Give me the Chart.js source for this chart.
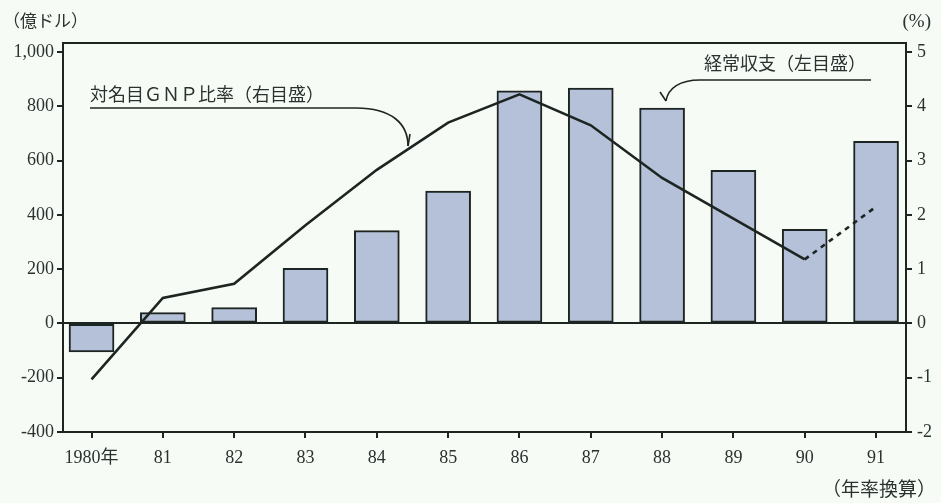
<!DOCTYPE html>
<html>
<head>
<meta charset="utf-8">
<script src="https://cdn.jsdelivr.net/npm/chart.js@4"></script>
<style>
  html, body { margin: 0; padding: 0; background: #f7fbf5; }
  canvas { display: block; }
</style>
</head>
<body>
<canvas id="chart" width="941" height="503"></canvas>
<script>
// data
const years = ['1980年', '81', '82', '83', '84', '85', '86', '87', '88', '89', '90', '91']
const currentAccount = [-105, 40, 58, 203, 342, 488, 857, 867, 793, 564, 347, 671] // 億ドル (left)
const gnpRatio = [-1.03, 0.47, 0.73, 1.81, 2.83, 3.7, 4.22, 3.65, 2.68, 1.93, 1.18, 2.15] // % (right)
const leftTicks = [-400, -200, 0, 200, 400, 600, 800, 1000]
const rightTicks = [-2, -1, 0, 1, 2, 3, 4, 5]

const ink = '#1d2523'
const numFont = { family: '"Liberation Serif", "Noto Sans CJK JP", serif', size: 18 }
const jpFont = '"Noto Sans CJK JP", sans-serif'

const ctx = document.getElementById('chart').getContext('2d')

const paperPlugin = {
  id: 'paper',
  beforeDraw(chart) {
    const c = chart.ctx
    c.save()
    c.fillStyle = '#f7fbf5'
    c.fillRect(0, 0, chart.width, chart.height)
    c.restore()
  },
  afterDraw(chart) {
    const c = chart.ctx
    const a = chart.chartArea
    c.save()
    // frame
    c.strokeStyle = ink
    c.lineWidth = 2
    c.strokeRect(a.left, a.top, a.right - a.left, a.bottom - a.top)

    // unit labels
    c.fillStyle = '#2a3230'
    c.textBaseline = 'middle'
    c.font = '17px ' + jpFont
    c.textAlign = 'left'
    c.fillText('（億ドル）', 3, 21)
    c.font = '19px "Liberation Serif", serif'
    c.textAlign = 'right'
    c.fillText('(%)', 931, 22)
    c.font = '19px ' + jpFont
    c.fillText('（年率換算）', 936, 489)

    // annotation: ratio line
    c.font = '18px ' + jpFont
    c.textAlign = 'left'
    c.fillText('対名目ＧＮＰ比率（右目盛）', 90, 94)
    c.lineWidth = 1.6
    c.beginPath()
    c.moveTo(90, 108)
    c.lineTo(356, 108)
    c.bezierCurveTo(392, 108, 408, 124, 408, 146)
    c.stroke()
    c.beginPath()
    c.moveTo(408, 146)
    c.lineTo(410, 134)
    c.stroke()

    // annotation: current account bars
    c.fillText('経常収支（左目盛）', 704, 63)
    c.beginPath()
    c.moveTo(871, 80)
    c.lineTo(700, 80)
    c.bezierCurveTo(680, 80, 668, 88, 666, 101)
    c.stroke()
    c.beginPath()
    c.moveTo(660, 92)
    c.lineTo(666, 101)
    c.stroke()
    c.restore()
  }
}

new Chart(ctx, {
  type: 'bar',
  data: {
    datasets: [{
      type: 'line',
      label: '対名目GNP比率',
      data: gnpRatio.map((v, i) => ({ x: i, y: v })),
      yAxisID: 'y1',
      borderColor: ink,
      borderWidth: 2.6,
      pointRadius: 0,
      tension: 0,
      order: 0,
      segment: {
        borderDash: c => c.p0DataIndex >= 10 ? [5, 5] : undefined
      }
    }, {
      label: '経常収支',
      data: currentAccount.map((v, i) => ({ x: i, y: v })),
      yAxisID: 'y',
      backgroundColor: '#b5c1d9',
      borderColor: ink,
      borderWidth: 2,
      borderSkipped: false,
      barThickness: 45,
      order: 1
    }]
  },
  options: {
    responsive: false,
    animation: false,
    layout: { padding: { top: 43, left: 0, right: 0, bottom: 0 } },
    plugins: { legend: { display: false }, tooltip: { enabled: false } },
    scales: {
      x: {
        type: 'linear',
        offset: false,
        min: -0.4,
        max: 11.42,
        afterBuildTicks: scale => { scale.ticks = years.map((_, i) => ({ value: i })) },
        afterFit: scale => { scale.height = 71 },
        grid: { offset: false, drawOnChartArea: false, tickLength: 6, color: ink, lineWidth: 2 },
        border: { color: ink, width: 2 },
        ticks: {
          autoSkip: false,
          maxRotation: 0,
          padding: 9,
          color: '#2a3230',
          font: numFont,
          callback: v => years[v]
        }
      },
      y: {
        position: 'left',
        min: -400,
        max: 1033.2,
        afterBuildTicks: scale => { scale.ticks = leftTicks.map(v => ({ value: v })) },
        afterFit: scale => { scale.width = 63 },
        grid: {
          color: c => c.tick && c.tick.value === 0 ? ink : 'rgba(0,0,0,0)',
          tickColor: ink,
          tickLength: 6,
          lineWidth: 2
        },
        border: { color: ink, width: 2 },
        ticks: {
          padding: 3,
          color: '#2a3230',
          font: numFont,
          callback: v => v.toLocaleString('en-US')
        }
      },
      y1: {
        position: 'right',
        min: -2,
        max: 5.166,
        afterBuildTicks: scale => { scale.ticks = rightTicks.map(v => ({ value: v })) },
        afterFit: scale => { scale.width = 35 },
        grid: { drawOnChartArea: false, tickLength: 6, color: ink, lineWidth: 2 },
        border: { color: ink, width: 2 },
        ticks: {
          padding: 5,
          color: '#2a3230',
          font: numFont,
          callback: v => String(v)
        }
      }
    }
  },
  plugins: [paperPlugin]
})
</script>
</body>
</html>
